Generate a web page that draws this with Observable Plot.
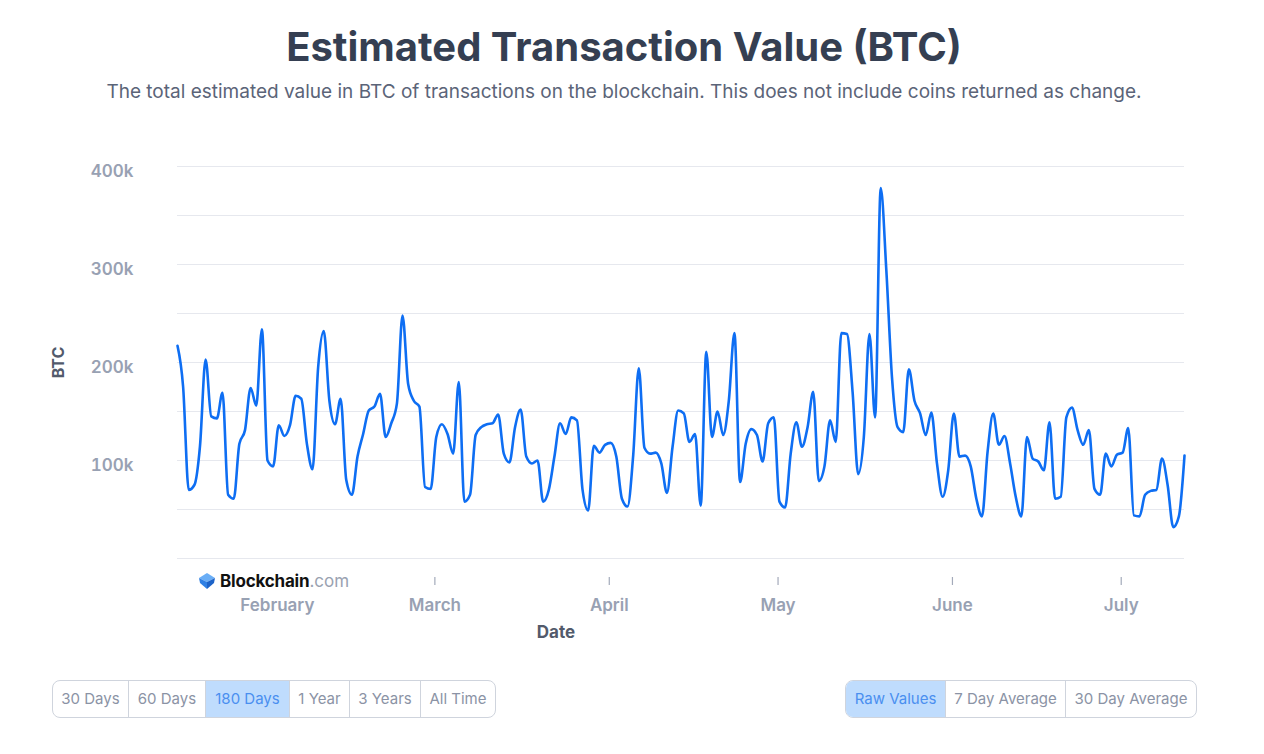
<!DOCTYPE html>
<html>
<head>
<meta charset="utf-8">
<script src="https://cdn.jsdelivr.net/npm/d3@7"></script>
<script src="https://cdn.jsdelivr.net/npm/@observablehq/plot@0.6"></script>
<style>
  body { margin: 0; background: #fff; font-family: Inter, "Noto Sans", sans-serif; }
  #page { position: relative; width: 1264px; height: 754px; overflow: hidden; }
  h1 { position: absolute; top: 23px; left: 0; width: 1248px; margin: 0; text-align: center;
       font-size: 40px; line-height: 48px; font-weight: 700; color: #353f52; }
  .sub { position: absolute; top: 80px; left: 0; width: 1248px; text-align: center;
         font-size: 19px; line-height: 24px; color: #5b6478; }
  #chart { position: absolute; top: 120px; left: 0; width: 1264px; }
  #chart svg { max-width: none; }
  .logo { position: absolute; left: 198px; top: 570px; height: 22px; display: flex; align-items: center;
          background: #fff; padding-right: 4px; font-size: 17px; }
  .logo b { color: #111; font-weight: 700; margin-left: 4px; letter-spacing: -0.2px; }
  .logo span { color: #9aa2b1; }
  .group { position: absolute; top: 680px; height: 36px; display: flex; border: 1px solid #cfd4dd;
           border-radius: 8px; overflow: hidden; }
  .group div { box-sizing: border-box; text-align: center; line-height: 36px; font-size: 15px; color: #8b93a5;
               border-right: 1px solid #cfd4dd; }
  .group div:last-child { border-right: none; }
  .group .sel { background: #bfdcfd; color: #4a8ff0; }
</style>
</head>
<body>
<div id="page">
  <h1>Estimated Transaction Value (BTC)</h1>
  <div class="sub">The total estimated value in BTC of transactions on the blockchain. This does not include coins returned as change.</div>
  <div id="chart"></div>
  <div class="logo">
    <svg width="18" height="18" viewBox="0 0 18 18">
      <polygon points="9,1 17,6 9,10 1,6" fill="#6aaef6"/>
      <polygon points="1,6 9,10 9,17 2,11" fill="#2f80e4"/>
      <polygon points="17,6 9,10 9,17 16,11" fill="#1d63c8"/>
    </svg>
    <b>Blockchain</b><span>.com</span>
  </div>
  <div class="group" style="left:52px;">
    <div style="width:76px">30 Days</div>
    <div style="width:77px">60 Days</div>
    <div class="sel" style="width:84px">180 Days</div>
    <div style="width:60px">1 Year</div>
    <div style="width:71px">3 Years</div>
    <div style="width:74px">All Time</div>
  </div>
  <div class="group" style="left:845px;">
    <div class="sel" style="width:100px">Raw Values</div>
    <div style="width:120px">7 Day Average</div>
    <div style="width:130px">30 Day Average</div>
  </div>
</div>
<script>
// Daily estimated transaction value (thousand BTC), starting 2023-01-14
const startDate = "2023-01-14T06:00:00Z";
const endDate = "2023-07-12T06:00:00Z";
const valuesK = [
  217, 175, 70, 75, 115, 203, 145, 143, 169, 65,
  61, 117, 131, 174, 156, 234, 100, 94, 136, 125,
  136, 166, 163, 117, 91, 195, 232, 161, 137, 163,
  80, 65, 104, 127, 151, 155, 168, 124, 138, 158,
  248, 178, 161, 155, 73, 71, 124, 137, 127, 107,
  180, 58, 65, 126, 134, 137, 138, 147, 107, 98,
  134, 152, 104, 97, 100, 58, 70, 104, 138, 127,
  144, 141, 70, 49, 115, 108, 116, 118, 104, 61,
  53, 105, 194, 113, 107, 108, 97, 67, 114, 151,
  148, 119, 127, 54, 211, 124, 150, 126, 161, 230,
  78, 117, 132, 126, 99, 138, 144, 58, 52, 107,
  139, 114, 134, 170, 79, 94, 141, 119, 230, 229,
  170, 86, 124, 229, 144, 378, 294, 185, 134, 129,
  193, 161, 148, 126, 149, 97, 63, 90, 148, 104,
  105, 94, 61, 43, 109, 148, 116, 125, 97, 63,
  43, 124, 102, 99, 90, 139, 61, 63, 144, 154,
  131, 116, 131, 71, 65, 107, 94, 106, 108, 133,
  44, 43, 65, 69, 70, 102, 75, 32, 43, 105
];
const monthTicks = ["2023-02-01", "2023-03-01", "2023-04-01", "2023-05-01", "2023-06-01", "2023-07-01"];
const monthLabels = ["February", "March", "April", "May", "June", "July"];
const yTickValues = [100000, 200000, 300000, 400000];
const yGridValues = [0, 50000, 100000, 150000, 200000, 250000, 300000, 350000, 400000];

const t0 = new Date(startDate);
const data = valuesK.map((v, i) => ({ date: d3.utcDay.offset(t0, i), value: v * 1000 }));
const ticks = monthTicks.map(s => new Date(s + "T00:00:00Z"));
const labelOf = new Map(ticks.map((d, i) => [+d, monthLabels[i]]));

const chart = Plot.plot({
  width: 1264,
  height: 530,
  marginLeft: 177,
  marginRight: 80,
  marginTop: 46,
  marginBottom: 92,
  style: { fontFamily: "Inter, 'Noto Sans', sans-serif", background: "transparent", maxWidth: "none" },
  x: { type: "utc", domain: [new Date(startDate), new Date(endDate)] },
  y: { domain: [0, 400000] },
  marks: [
    Plot.gridY(yGridValues, { stroke: "#e6e8ee", strokeOpacity: 1, strokeWidth: 1 }),
    Plot.axisY(yTickValues, {
      tickSize: 0, tickPadding: 44, dy: 5, label: null,
      tickFormat: d => d / 1000 + "k",
      fill: "#98a1b3", fontSize: 17, fontWeight: 600
    }),
    Plot.axisX(ticks, { tickSize: 8, dy: 19, stroke: "#a3aaba", strokeWidth: 1.2, text: null, label: null }),
    Plot.axisX(ticks, {
      tickSize: 0, tickPadding: 8, dy: 32, label: null,
      tickFormat: d => labelOf.get(+d),
      fill: "#98a1b3", fontSize: 17, fontWeight: 600
    }),
    Plot.lineY(data, { x: "date", y: "value", curve: "monotone-x", stroke: "#0e6ef3", strokeWidth: 2.6 }),
    Plot.text(["BTC"], { frameAnchor: "left", dx: -119, rotate: -90, textAnchor: "middle", fill: "#525a6b", fontSize: 16, fontWeight: 700 }),
    Plot.text(["Date"], { frameAnchor: "bottom", dx: -125, dy: 79, fill: "#525a6b", fontSize: 17, fontWeight: 700 })
  ]
});
document.getElementById("chart").appendChild(chart);
</script>
</body>
</html>
